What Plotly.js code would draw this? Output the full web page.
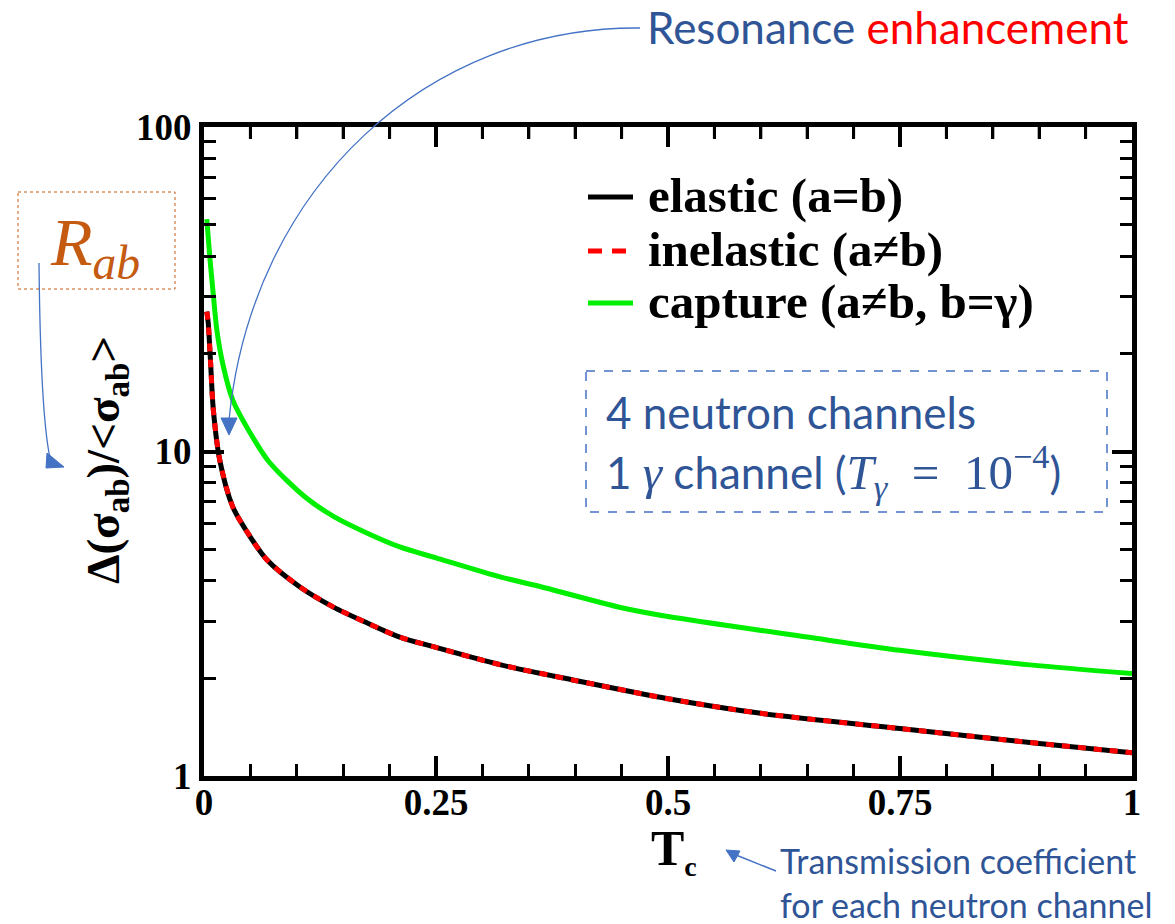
<!DOCTYPE html>
<html>
<head>
<meta charset="utf-8">
<script src="https://cdn.plot.ly/plotly-3.0.1.min.js"></script>
<style>html,body{margin:0;padding:0;background:#fff;}#chart{width:1175px;height:924px;}</style>
</head>
<body>
<div id="chart"></div>
<script>
// ---- data ----
const T_elastic = [0.003, 0.0045, 0.007, 0.01, 0.017, 0.031, 0.05, 0.068, 0.103, 0.139, 0.176, 0.211, 0.25, 0.32, 0.4, 0.5, 0.6, 0.75, 0.9, 1.0];
const R_elastic = [27, 25, 19, 13.5, 9.4, 6.75, 5.45, 4.63, 3.83, 3.32, 2.96, 2.68, 2.49, 2.2, 1.97, 1.73, 1.56, 1.40, 1.26, 1.18];
const T_inelastic = [0.003, 0.0045, 0.007, 0.01, 0.017, 0.031, 0.05, 0.068, 0.103, 0.139, 0.176, 0.211, 0.25, 0.32, 0.4, 0.5, 0.6, 0.75, 0.9, 1.0];
const R_inelastic = [27, 25, 19, 13.5, 9.4, 6.75, 5.45, 4.63, 3.83, 3.32, 2.96, 2.68, 2.49, 2.2, 1.97, 1.73, 1.56, 1.40, 1.26, 1.18];
const T_capture = [0.003, 0.0065, 0.01, 0.014, 0.021, 0.031, 0.046, 0.07, 0.11, 0.14, 0.176, 0.211, 0.25, 0.32, 0.36, 0.45, 0.5, 0.65, 0.75, 0.89, 1.0];
const R_capture = [52, 39, 30.5, 23.5, 18.2, 14.4, 11.9, 9.3, 7.2, 6.3, 5.6, 5.08, 4.7, 4.1, 3.85, 3.3, 3.1, 2.68, 2.44, 2.2, 2.07];
const legendLabels = ['elastic (a=b)', 'inelastic (a\u2260b)', 'capture (a\u2260b, b=\u03b3)'];
const xMajorTicks = [0, 0.25, 0.5, 0.75, 1];
const xMajorText = ['0', '0.25', '0.5', '0.75', '1'];
const xMinorTicks = [0.05, 0.1, 0.15, 0.2, 0.3, 0.35, 0.4, 0.45, 0.55, 0.6, 0.65, 0.7, 0.8, 0.85, 0.9, 0.95];
const xTitle = 'T<sub><span style="font-size:28px">c</span></sub>';
const yTitle = '\u0394(\u03c3<sub>ab</sub>)/&lt;\u03c3<sub>ab</sub>&gt;';

// ---- layout geometry (pixels) ----
const W = 1175, H = 924;
const M = {l: 204, r: 43, t: 127, b: 148};
const PW = W - M.l - M.r, PH = H - M.t - M.b;
const px = x => (x - M.l) / PW;
const py = y => (H - M.b - y) / PH;
const P = (x, y) => px(x) + ' ' + py(y);
const X_RANGE = [0, 1];
const Y_LOG_RANGE = [0, 2];

const serif = 'Liberation Serif, Times New Roman, serif';
const sans = 'Lato, Open Sans, sans-serif';
const blue = '#2F5597';
const arrowBlue = '#4472C4';

// top-frame tick marks (mirror of the bottom axis ticks), drawn through the data scales
function topTicks(vals, lenPx) {
  const yTop = Math.pow(10, Y_LOG_RANGE[1]);
  const yEnd = Math.pow(10, Y_LOG_RANGE[1] - (Y_LOG_RANGE[1] - Y_LOG_RANGE[0]) * lenPx / PH);
  const xs = [], ys = [];
  vals.forEach(v => { xs.push(v, v, null); ys.push(yTop, yEnd, null); });
  return {xs, ys};
}
const topMajor = topTicks(xMajorTicks.slice(1, -1), 20);
const topMinor = topTicks(xMinorTicks, 12);

const traces = [
  {x: T_elastic, y: R_elastic, mode: 'lines', name: legendLabels[0],
   line: {color: '#000000', width: 5, shape: 'spline', smoothing: 0.8}},
  {x: T_inelastic, y: R_inelastic, mode: 'lines', name: legendLabels[1],
   line: {color: '#FF0000', width: 5, dash: '8px,8px', shape: 'spline', smoothing: 0.8}},
  {x: T_capture, y: R_capture, mode: 'lines', name: legendLabels[2],
   line: {color: '#00EE00', width: 5, shape: 'spline', smoothing: 0.8}},
  {x: topMajor.xs, y: topMajor.ys, mode: 'lines', showlegend: false, hoverinfo: 'skip', connectgaps: false,
   line: {color: '#000', width: 4}},
  {x: topMinor.xs, y: topMinor.ys, mode: 'lines', showlegend: false, hoverinfo: 'skip', connectgaps: false,
   line: {color: '#000', width: 3}}
];

const resPath = 'M ' + P(640, 28) + ' C ' + P(430, 26) + ', ' + P(252, 185) + ', ' + P(229, 420);
const resHead = 'M ' + P(221, 418) + ' L ' + P(237, 418) + ' L ' + P(229, 435) + ' Z';
const rPath = 'M ' + P(39, 263) + ' C ' + P(40, 360) + ', ' + P(44, 430) + ', ' + P(50, 458);
const rHead = 'M ' + P(47, 453) + ' L ' + P(64, 467) + ' L ' + P(46, 468) + ' Z';
const tPath = 'M ' + P(776, 871) + ' L ' + P(736, 855);
const tHead = 'M ' + P(726, 850) + ' L ' + P(740, 851) + ' L ' + P(734, 862) + ' Z';

const shapes = [
  {type: 'path', xref: 'paper', yref: 'paper', path: resPath, line: {color: arrowBlue, width: 1.3}, fillcolor: 'rgba(0,0,0,0)'},
  {type: 'path', xref: 'paper', yref: 'paper', path: resHead, line: {color: arrowBlue, width: 1}, fillcolor: arrowBlue},
  {type: 'path', xref: 'paper', yref: 'paper', path: rPath, line: {color: arrowBlue, width: 1.3}, fillcolor: 'rgba(0,0,0,0)'},
  {type: 'path', xref: 'paper', yref: 'paper', path: rHead, line: {color: arrowBlue, width: 1}, fillcolor: arrowBlue},
  {type: 'path', xref: 'paper', yref: 'paper', path: tPath, line: {color: arrowBlue, width: 1.5}},
  {type: 'path', xref: 'paper', yref: 'paper', path: tHead, line: {color: arrowBlue, width: 1}, fillcolor: arrowBlue},
  {type: 'rect', xref: 'paper', yref: 'paper', x0: px(18), x1: px(175), y0: py(192), y1: py(289),
   line: {color: '#C55A11', width: 1, dash: 'dot'}},
  {type: 'rect', xref: 'paper', yref: 'paper', x0: px(586), x1: px(1107), y0: py(371), y1: py(512),
   line: {color: arrowBlue, width: 1.5, dash: 'dash'}},
  // legend samples
  {type: 'line', xref: 'paper', yref: 'paper', x0: px(588), x1: px(633), y0: py(197), y1: py(197), line: {color: '#000', width: 5}},
  {type: 'line', xref: 'paper', yref: 'paper', x0: px(588), x1: px(626), y0: py(251), y1: py(251), line: {color: '#FF0000', width: 5, dash: '14px,10px'}},
  {type: 'line', xref: 'paper', yref: 'paper', x0: px(588), x1: px(633), y0: py(303), y1: py(303), line: {color: '#00EE00', width: 5}}
];

const legFont = {family: serif, size: 49, color: '#000', weight: 'bold'};
const mathSpan = s => '<span style="font-family:Liberation Serif;font-size:49px">' + s + '</span>';
const annotations = [
  {xref: 'paper', yref: 'paper', x: px(646), y: py(196), xanchor: 'left', yanchor: 'middle', showarrow: false, text: legendLabels[0], font: legFont},
  {xref: 'paper', yref: 'paper', x: px(646), y: py(249), xanchor: 'left', yanchor: 'middle', showarrow: false, text: legendLabels[1], font: legFont},
  {xref: 'paper', yref: 'paper', x: px(646), y: py(301), xanchor: 'left', yanchor: 'middle', showarrow: false, text: legendLabels[2], font: legFont},
  {xref: 'paper', yref: 'paper', x: px(645), y: py(27), xanchor: 'left', yanchor: 'middle', showarrow: false,
   text: 'Resonance <span style="color:#FF0000">enhancement</span>', font: {family: sans, size: 44, color: blue}},
  {xref: 'paper', yref: 'paper', x: px(95), y: py(246), xanchor: 'center', yanchor: 'middle', showarrow: false,
   text: '<i>R</i><sub><i>ab</i></sub>', font: {family: serif, size: 68, color: '#C55A11'}},
  {xref: 'paper', yref: 'paper', x: px(604), y: py(412), xanchor: 'left', yanchor: 'middle', showarrow: false,
   text: '4 neutron channels', font: {family: sans, size: 44, color: blue}},
  {xref: 'paper', yref: 'paper', x: px(604), y: py(471), xanchor: 'left', yanchor: 'middle', showarrow: false,
   text: '1 ' + mathSpan('<i>\u03b3</i>') + ' channel (' + mathSpan('<i>T</i><sub><i>\u03b3</i></sub>\u2002=\u200210<sup>\u22124</sup>') + ')',
   font: {family: sans, size: 44, color: blue}},
  {xref: 'paper', yref: 'paper', x: px(778), y: py(883), xanchor: 'left', yanchor: 'middle', showarrow: false, align: 'left',
   text: 'Transmission coefficient<br>for each neutron channel', font: {family: sans, size: 34, color: blue}},
  // axis titles
  {xref: 'paper', yref: 'paper', x: px(674), y: py(851), xanchor: 'center', yanchor: 'middle', showarrow: false,
   text: xTitle, font: {family: serif, size: 50, color: '#000', weight: 'bold'}},
  {xref: 'paper', yref: 'paper', x: px(106), y: py(460), xanchor: 'center', yanchor: 'middle', showarrow: false, textangle: -90,
   text: yTitle, font: {family: serif, size: 47, color: '#000', weight: 'bold'}}
];

const tickFont = {family: serif, size: 37, color: '#000', weight: 'bold'};
const frame = {showline: true, linecolor: '#000', linewidth: 5, showgrid: false, zeroline: false, automargin: false};
const layout = {
  width: W, height: H,
  margin: M,
  paper_bgcolor: '#fff', plot_bgcolor: '#fff',
  showlegend: false,
  xaxis: Object.assign({}, frame, {
    range: X_RANGE, tickmode: 'array', tickvals: xMajorTicks, ticktext: xMajorText, mirror: 'allticks',
    ticks: 'inside', ticklen: 20, tickwidth: 4, tickcolor: '#000', ticklabelstandoff: -10,
    minor: {tickmode: 'array', tickvals: xMinorTicks, ticks: 'inside', ticklen: 12, tickwidth: 3, tickcolor: '#000'},
    tickfont: tickFont
  }),
  yaxis: Object.assign({}, frame, {
    type: 'log', range: Y_LOG_RANGE, tickmode: 'linear', tick0: 0, dtick: 1, mirror: 'allticks',
    ticks: 'inside', ticklen: 20, tickwidth: 4, tickcolor: '#000',
    minor: {dtick: 'D1', ticks: 'inside', ticklen: 12, tickwidth: 3, tickcolor: '#000'},
    tickfont: tickFont
  }),
  shapes: shapes,
  annotations: annotations
};

Plotly.newPlot('chart', traces, layout, {displayModeBar: false, staticPlot: true});
</script>
</body>
</html>
